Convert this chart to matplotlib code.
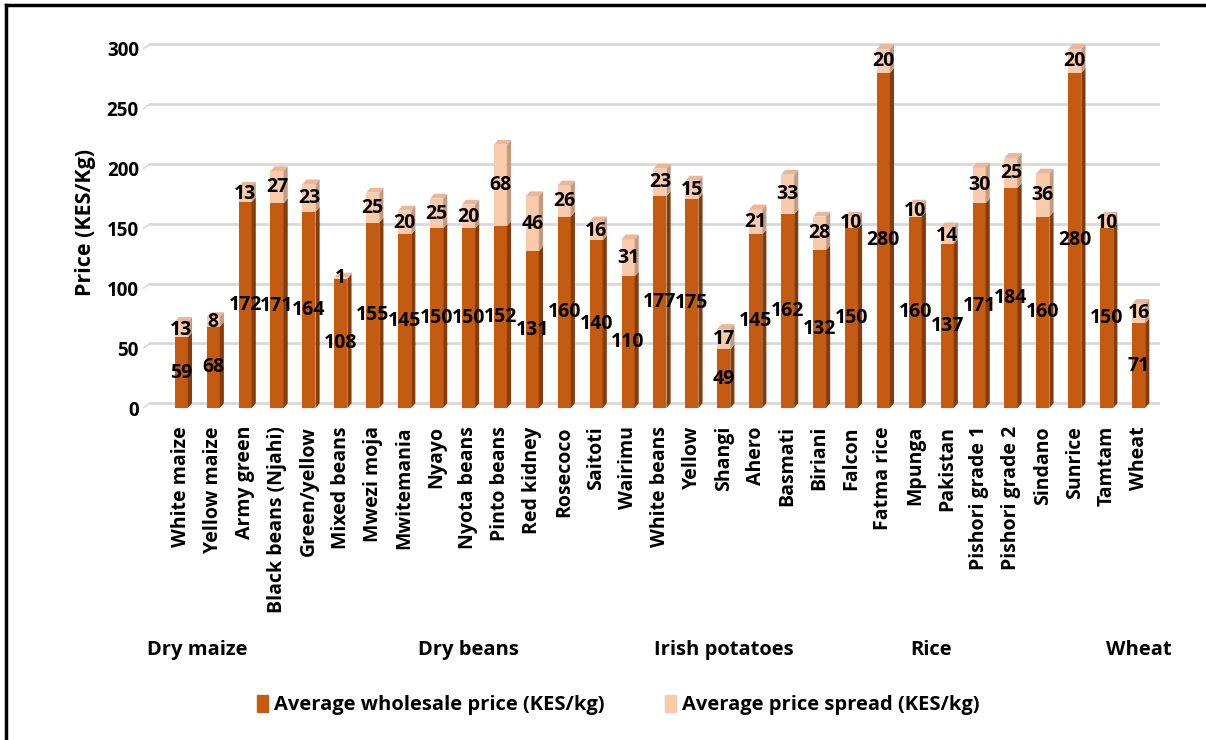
import matplotlib
matplotlib.use('Agg')
import matplotlib.pyplot as plt
from matplotlib.patches import Polygon, Patch
from matplotlib.lines import Line2D
import matplotlib.transforms as mtransforms

plt.rcParams['font.family'] = ['Open Sans', 'DejaVu Sans']
plt.rcParams['font.weight'] = 'bold'

varieties = ['White maize', 'Yellow maize', 'Army green', 'Black beans (Njahi)', 'Green/yellow',
             'Mixed beans', 'Mwezi moja', 'Mwitemania', 'Nyayo', 'Nyota beans', 'Pinto beans',
             'Red kidney', 'Rosecoco', 'Saitoti', 'Wairimu', 'White beans', 'Yellow', 'Shangi',
             'Ahero', 'Basmati', 'Biriani', 'Falcon', 'Fatma rice', 'Mpunga', 'Pakistan',
             'Pishori grade 1', 'Pishori grade 2', 'Sindano', 'Sunrice', 'Tamtam', 'Wheat']
wholesale = [59, 68, 172, 171, 164, 108, 155, 145, 150, 150, 152, 131, 160, 140, 110, 177, 175,
             49, 145, 162, 132, 150, 280, 160, 137, 171, 184, 160, 280, 150, 71]
spread = [13, 8, 13, 27, 23, 1, 25, 20, 25, 20, 68, 46, 26, 16, 31, 23, 15,
          17, 21, 33, 28, 10, 20, 10, 14, 30, 25, 36, 20, 10, 16]
groups = ['Dry maize', 'Dry beans', 'Irish potatoes', 'Rice', 'Wheat']
group_sizes = [2, 15, 1, 12, 1]

c_whole = '#C55A11'
c_whole_side = '#843C0C'
c_spread = '#F8CBAD'
c_spread_side = '#C49A80'
c_top = '#E9B89B'

fig = plt.figure(figsize=(12.06, 7.40), dpi=100)
ax = fig.add_axes([143 / 1206, (740 - 408) / 740, 1017 / 1206, 371 / 740])
xl, xr = -1.2, 30.67
ax.set_xlim(xl, xr)
ax.set_ylim(0, 310)

w = 0.41      # front width
dx = 0.13     # depth (x)
dy = 4.0      # depth (y)

# back-wall gridlines
yticks = [0, 50, 100, 150, 200, 250, 300]
for v in yticks:
    ax.plot([xl + 0.22, xr], [v + dy, v + dy], color='#D9D9D9', lw=2, zorder=0)
    ax.plot([xl, xl + 0.22], [v, v + dy], color='#D9D9D9', lw=1.2, zorder=0)

x = list(range(len(varieties)))
ax.bar(x, wholesale, width=w, color=c_whole, zorder=3)
ax.bar(x, spread, width=w, bottom=wholesale, color=c_spread, zorder=3)

for i in x:
    b = wholesale[i]
    t = wholesale[i] + spread[i]
    r = i + w / 2
    l = i - w / 2
    ax.add_patch(Polygon([(r, 0), (r + dx, dy), (r + dx, b + dy), (r, b)],
                         closed=True, color=c_whole_side, zorder=3, lw=0))
    ax.add_patch(Polygon([(r, b), (r + dx, b + dy), (r + dx, t + dy), (r, t)],
                         closed=True, color=c_spread_side, zorder=3, lw=0))
    ax.add_patch(Polygon([(l, t), (r, t), (r + dx, t + dy), (l + dx, t + dy)],
                         closed=True, color=c_top, zorder=3, lw=0))
    ax.text(i, b / 2, str(b), ha='center', va='center', fontsize=14,
            fontweight='bold', color='black', zorder=5, clip_on=False)
    ax.text(i, b + spread[i] / 2, str(spread[i]), ha='center', va='center', fontsize=14,
            fontweight='bold', color='black', zorder=5, clip_on=False)

ax.set_yticks(yticks)
ax.set_yticklabels([str(v) for v in yticks], fontsize=13.5, fontweight='bold')
ax.set_xticks(x)
ax.set_xticklabels(varieties, rotation=90, fontsize=14, fontweight='bold')
ax.tick_params(axis='both', length=0)
ax.tick_params(axis='y', pad=3)
ax.tick_params(axis='x', pad=13)
for s in ax.spines.values():
    s.set_visible(False)

ax.set_ylabel('Price (KES/Kg)', fontsize=15.5, fontweight='bold', labelpad=8)

# group labels under the variety names
trans = mtransforms.blended_transform_factory(ax.transData, fig.transFigure)
start = 0
for g, n in zip(groups, group_sizes):
    center = start + (n - 1) / 2
    ax.text(center, (740 - 650) / 740, g, transform=trans, ha='center', va='center',
            fontsize=14.5, fontweight='bold', clip_on=False)
    start += n

handles = [Patch(color=c_whole, label='Average wholesale price (KES/kg)'),
           Patch(color=c_spread, label='Average price spread (KES/kg)')]
fig.legend(handles=handles, loc='center', bbox_to_anchor=(618 / 1206, (740 - 705) / 740),
           ncol=2, frameon=False, handlelength=0.55, handleheight=0.9,
           handletextpad=0.3, columnspacing=3.0, prop={'weight': 'bold', 'size': 14.5})

# outer frame (top and left edges)
fig.add_artist(Line2D([6 / 1206, 6 / 1206], [0, 1 - 5 / 740], transform=fig.transFigure,
                      color='black', lw=2.5))
fig.add_artist(Line2D([6 / 1206, 1], [1 - 5 / 740, 1 - 5 / 740], transform=fig.transFigure,
                      color='black', lw=2.5))

fig.savefig('out.png', dpi=100)
